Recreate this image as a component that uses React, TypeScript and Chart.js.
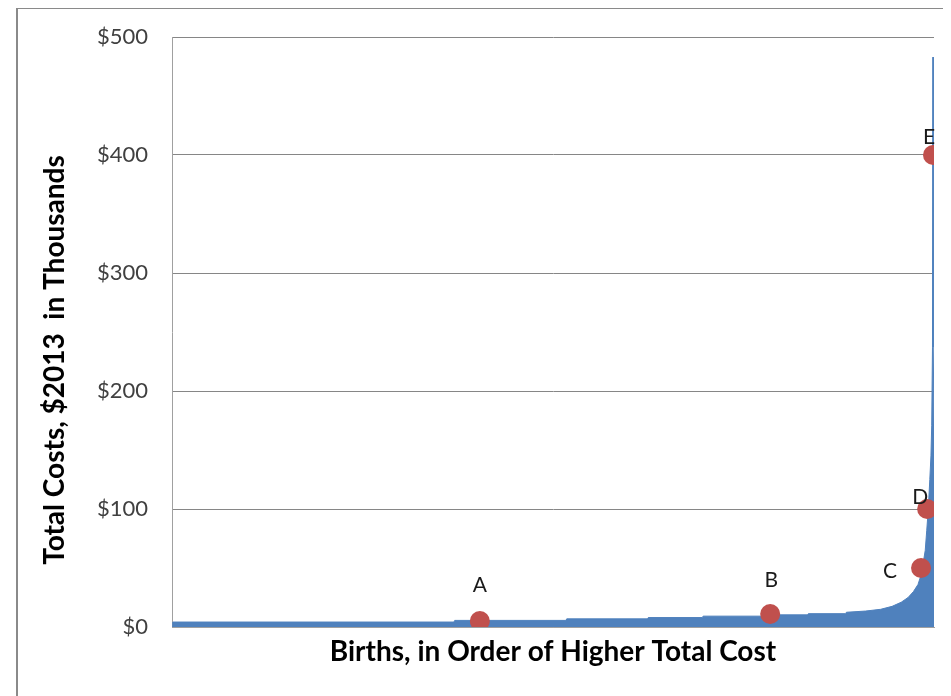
import React, { useEffect, useRef } from "react";
import { Chart, registerables } from "chart.js";

Chart.register(...registerables);

// Births ranked by total cost (percent of births, 0-100) and their total cost ($2013, thousands)
const birthPct = [
  0, 0.1, 37.0, 37.1, 51.7, 51.8, 62.4, 62.5, 69.6, 69.7, 79.6, 79.7, 83.4, 83.5, 88.4, 88.5,
  91.0, 93.0, 94.5, 95.7, 96.6, 97.3, 97.9, 98.3, 98.6, 98.85, 99.05, 99.25, 99.45, 99.6, 99.7,
  99.8, 99.86, 99.87, 99.9, 100, 100,
];
const costK = [
  0, 4.2, 4.2, 5.6, 5.6, 6.9, 6.9, 8.0, 8.0, 9.2, 9.2, 10.3, 10.3, 11.3, 11.3, 12.5,
  13.5, 15.0, 17.5, 21, 25, 30, 36, 44, 55, 65, 82, 100, 125, 145, 171,
  237, 237, 483, 237, 171, 0,
];

// Highlighted births
const markerLabels = ["A", "B", "C", "D", "E"];
const markerPct = [40.4, 78.5, 98.3, 99.1, 99.87];
const markerCost = [5, 11, 50, 100, 400];

const yTickValues = [0, 100, 200, 300, 400, 500];
const xTitle = "Births, in Order of Higher Total Cost";
const yTitle = "Total Costs, $2013  in Thousands";

const FONT = "Lato, 'Open Sans', sans-serif";
const labelStyle = {
  offsets: [
    [0, -36],
    [1, -34],
    [-31, 3],
    [-7, -12],
    [-4, -18],
  ],
};

const overlayPlugin = {
  id: "overlay",
  afterDraw(chart: any) {
    const ctx = chart.ctx;
    const area = chart.chartArea;
    ctx.save();
    // point labels
    const meta = chart.getDatasetMeta(1);
    ctx.font = `21px ${FONT}`;
    ctx.fillStyle = "#1a1a1a";
    ctx.textAlign = "center";
    ctx.textBaseline = "middle";
    meta.data.forEach((el: any, i: number) => {
      const off = labelStyle.offsets[i];
      ctx.fillText(markerLabels[i], el.x + off[0], el.y + off[1]);
    });
    // axis titles
    ctx.font = `bold 28px ${FONT}`;
    ctx.fillStyle = "#000";
    ctx.fillText(xTitle, (area.left + area.right) / 2, 644);
    ctx.translate(47, 352);
    ctx.rotate(-Math.PI / 2);
    ctx.fillText(yTitle, 0, 0);
    ctx.restore();
  },
};

export default function App() {
  const ref = useRef<HTMLCanvasElement | null>(null);
  useEffect(() => {
    if (!ref.current) return;
    const chart = new Chart(ref.current, {
      type: "line",
      data: {
        datasets: [
          {
            label: "Total cost",
            data: birthPct.map((x, i) => ({ x, y: costK[i] })),
            borderColor: "#4F81BD",
            backgroundColor: "#4F81BD",
            borderWidth: 1,
            fill: "origin",
            pointRadius: 0,
            tension: 0,
            order: 2,
          },
          {
            label: "Examples",
            type: "scatter",
            data: markerPct.map((x, i) => ({ x, y: markerCost[i] })),
            backgroundColor: "#C0504D",
            borderWidth: 0,
            pointRadius: 10,
            order: 1,
          } as any,
        ],
      },
      options: {
        animation: false,
        responsive: false,
        events: [],
        layout: { padding: { left: 0, top: 29, right: 17, bottom: 69 } },
        plugins: { legend: { display: false }, tooltip: { enabled: false } },
        scales: {
          x: {
            type: "linear",
            min: 0,
            max: 100,
            ticks: { display: false },
            grid: { display: false, drawTicks: false },
            border: { display: true, color: "#a0a0a0", width: 1 },
            afterFit: (s: any) => {
              s.height = 0;
              s.paddingLeft = 0;
              s.paddingRight = 0;
            },
          },
          y: {
            min: 0,
            max: 500,
            afterBuildTicks: (s: any) => {
              s.ticks = yTickValues.map((v) => ({ value: v }));
            },
            ticks: {
              padding: 24,
              color: "#404040",
              font: { family: FONT, size: 22 },
              callback: (v: any) => `$${v}`,
            },
            grid: { color: "#868686", lineWidth: 1, drawTicks: false },
            border: { display: true, color: "#a0a0a0", width: 1 },
            afterFit: (s: any) => {
              s.width = 164;
              s.paddingTop = 0;
              s.paddingBottom = 0;
            },
          },
        },
      },
      plugins: [overlayPlugin],
    });
    return () => chart.destroy();
  }, []);

  return (
    <div style={{ position: "relative", width: 943, height: 688, overflow: "hidden" }}>
      <div
        style={{
          position: "absolute",
          left: 8,
          top: -1,
          width: 1000,
          height: 800,
          border: "2px solid #8a8a8a",
          boxSizing: "border-box",
        }}
      />
      <canvas
        ref={ref}
        width={943}
        height={688}
        style={{ position: "absolute", left: 0, top: 0, width: 943, height: 688 }}
      />
    </div>
  );
}
